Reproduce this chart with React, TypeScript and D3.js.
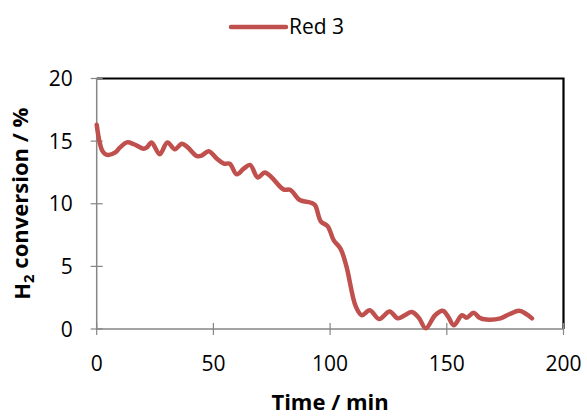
import React from "react";
import * as d3 from "d3";

// Time on stream (min) and H2 conversion (%) for sample "Red 3"
const timeMin = [
  0, 2.5, 4.5, 8, 10, 13, 16, 20, 21.5, 23.5, 27, 30.3, 33.5, 36.5, 39, 43, 45, 48,
  51.5, 54.5, 57, 60, 63, 65.7, 69, 72, 75, 80, 83, 87, 91.5, 93.5, 96, 99, 101.5,
  104.5, 107, 111, 113.6, 117, 121, 125.5, 129, 132, 135, 138, 141, 145, 148.3,
  150.5, 153, 156.5, 158.5, 161.5, 164, 167, 173, 177, 181, 184, 186.5,
];
const conversion = [
  16.3, 14.2, 13.9, 14.1, 14.5, 14.9, 14.75, 14.4, 14.5, 14.9, 13.95, 14.9, 14.35,
  14.8, 14.5, 13.8, 13.85, 14.2, 13.6, 13.2, 13.2, 12.35, 12.8, 13.1, 12.1, 12.5,
  12.1, 11.15, 11.1, 10.3, 10.1, 9.9, 8.6, 8.2, 7.1, 6.4, 5.0, 1.8, 1.1, 1.5, 0.8,
  1.4, 0.85, 1.1, 1.35, 0.9, 0.05, 1.1, 1.45, 1.0, 0.3, 1.1, 0.9, 1.3, 0.9, 0.75,
  0.85, 1.2, 1.45, 1.2, 0.85,
];
const xTicks = [0, 50, 100, 150, 200];
const yTicks = [0, 5, 10, 15, 20];
const seriesName = "Red 3";

const W = 587;
const H = 416;
const FONT = "'Open Sans', 'Noto Sans', sans-serif";
const LINE_COLOR = "#C0504D";

export default function App() {
  const x = d3.scaleLinear().domain([0, 200]).range([96.7, 563.5]);
  const y = d3.scaleLinear().domain([0, 20]).range([329, 78.5]);

  const points: [number, number][] = timeMin.map((t, i) => [t, conversion[i]]);
  const line = d3
    .line<[number, number]>()
    .x((d) => x(d[0]))
    .y((d) => y(d[1]))
    .curve(d3.curveCatmullRom.alpha(0.5));

  const [x0, x1] = x.range();
  const [y0, y1] = y.range();

  return (
    <svg
      width={W}
      height={H}
      style={{ position: "absolute", left: 0, top: 0, background: "#fff" }}
      fontFamily={FONT}
    >
      {/* legend */}
      <line x1={231} x2={286} y1={27} y2={27} stroke={LINE_COLOR} strokeWidth={4.5} strokeLinecap="round" />
      <text x={289} y={27} dy="0.35em" fontSize={21} fill="#000">
        {seriesName}
      </text>

      {/* frame: top and right borders */}
      <path d={`M${x0},${y1}H${x1}V${y0}`} fill="none" stroke="#000" strokeWidth={2.2} />

      {/* axes */}
      <line x1={x0} x2={x1} y1={y0} y2={y0} stroke="#868686" strokeWidth={1.5} />
      <line x1={x0} x2={x0} y1={y0} y2={y1} stroke="#868686" strokeWidth={1.5} />

      {xTicks.map((t) => (
        <g key={`x${t}`}>
          <line x1={x(t)} x2={x(t)} y1={y0 - 6} y2={y0 + 6} stroke="#868686" strokeWidth={1.2} />
          <text x={x(t)} y={371} textAnchor="middle" fontSize={21} fill="#000">
            {t}
          </text>
        </g>
      ))}
      {yTicks.map((t) => (
        <g key={`y${t}`}>
          <line x1={x0 - 6} x2={x0 + 6} y1={y(t)} y2={y(t)} stroke="#868686" strokeWidth={1.2} />
          <text x={x0 - 24} y={y(t)} dy="0.36em" textAnchor="end" fontSize={21} fill="#000">
            {t}
          </text>
        </g>
      ))}

      {/* series */}
      <path d={line(points) ?? ""} fill="none" stroke={LINE_COLOR} strokeWidth={4.5} strokeLinejoin="round" strokeLinecap="round" />

      {/* axis titles */}
      <text x={(x0 + x1) / 2} y={402} dy="0.35em" textAnchor="middle" fontSize={22} fontWeight="bold" fill="#000">
        Time / min
      </text>
      <text
        transform={`translate(22,${(y0 + y1) / 2}) rotate(-90)`}
        textAnchor="middle"
        dy="0.35em"
        fontSize={22}
        fontWeight="bold"
        fill="#000"
      >
        H<tspan fontSize={15} dy="0.3em">2</tspan>
        <tspan dy="-0.3em"> conversion / %</tspan>
      </text>
    </svg>
  );
}
